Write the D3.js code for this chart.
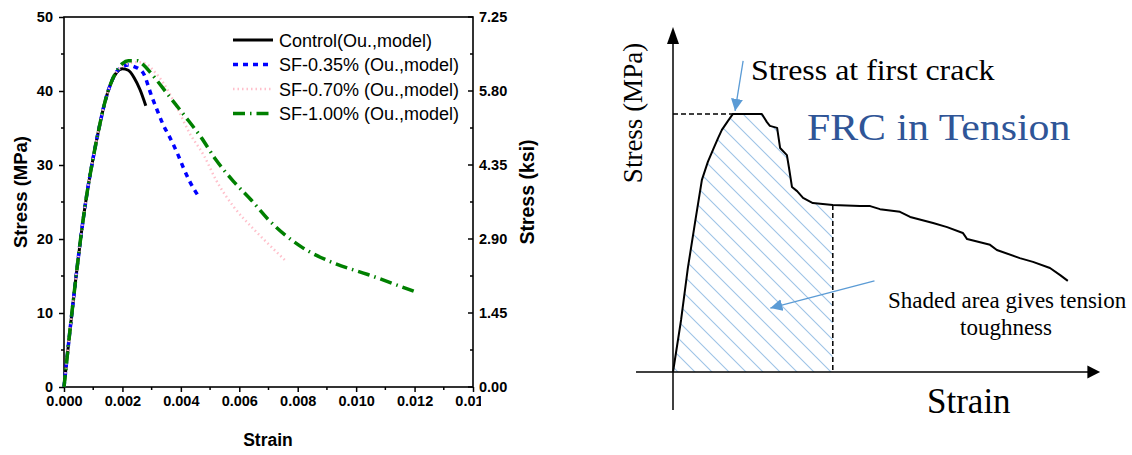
<!DOCTYPE html>
<html><head><meta charset="utf-8">
<script src="https://cdn.jsdelivr.net/npm/d3@7"></script>
<style>body{margin:0;background:#fff;} svg{display:block;}</style>
</head><body><svg id="c" width="1132" height="455"></svg>
<script>
// ---------- Left chart data ----------
const strainControl = [0,0.0002,0.0004,0.0006,0.0008,0.001,0.0012,0.0014,0.0016,0.0018,0.002,0.0022,0.0024,0.0026,0.0028];
const stressControl = [0,7.5,14.5,21,26.5,31,35,38.5,41,42.5,43,42.8,41.8,40.2,38];
const strainSF035 = [0,0.0002,0.0004,0.0006,0.0008,0.001,0.0012,0.0014,0.0016,0.0018,0.002,0.0022,0.0024,0.0027,0.003,0.0032,0.0034,0.0036,0.0039,0.0041,0.0043,0.0046];
const stressSF035 = [0,7.5,14.5,21,26.5,31,35,38.5,41,42.6,43.3,43.5,43.3,42.5,39.3,37.3,35.4,33.9,31.4,29.5,27.8,25.8];
const strainSF070 = [0,0.0002,0.0004,0.0006,0.0008,0.001,0.0012,0.0014,0.0016,0.0018,0.002,0.0022,0.0025,0.0028,0.0031,0.0034,0.0039,0.0043,0.0048,0.0052,0.0058,0.0065,0.0069,0.0076];
const stressSF070 = [0,7.5,14.5,21,26.5,31,35,38.5,41,42.6,43.3,43.7,43.9,43.7,42.6,41.1,37.5,34.3,31.2,28.0,24.4,21.3,19.7,17.0];
const strainSF100 = [0,0.0002,0.0004,0.0006,0.0008,0.001,0.0012,0.0014,0.0016,0.0018,0.002,0.0022,0.0025,0.0027,0.003,0.0036,0.0041,0.0047,0.0052,0.0058,0.0064,0.007,0.0081,0.0092,0.0104,0.012];
const stressSF100 = [0,7.5,14.5,21,26.5,31,35,38.5,41,42.7,43.7,44.1,44.1,43.6,42.3,39.3,36.8,33.7,30.7,27.8,25.3,22.6,19.0,16.8,15.2,12.9];
const seriesNames = ["Control(Ou.,model)","SF-0.35% (Ou.,model)","SF-0.70% (Ou.,model)","SF-1.00% (Ou.,model)"];
const xTicks = [0,0.002,0.004,0.006,0.008,0.010,0.012,0.014];
const yTicks = [0,10,20,30,40,50];
const ksiLabels = ["0.00","1.45","2.90","4.35","5.80","7.25"];

// ---------- Right schematic data (arbitrary units) ----------
const schemStrain = [0,0.19,0.35,0.52,0.68,0.82,0.94,1.06,1.15,1.29,1.41,2.09,2.21,2.28,2.45,2.52,2.68,2.73,2.80,2.92,3.06,3.29,3.76,4.40,4.64,4.87,5.34,5.58,6.12,6.45,6.82,6.92,7.46,7.62,8.16,8.47,8.87,9.11,9.29];
const schemStress = [0,1.53,3.06,4.41,5.65,6.18,6.53,6.88,7.12,7.38,7.59,7.59,7.35,7.24,7.18,6.59,6.38,6.00,5.44,5.32,5.12,4.97,4.91,4.88,4.88,4.79,4.71,4.56,4.38,4.26,4.09,3.91,3.74,3.59,3.35,3.24,3.06,2.85,2.68];
const firstCrackStress = 7.59;
const shadeEndStrain = 3.76;

const svg = d3.select("#c");
const AR = "'Liberation Sans', Arial, sans-serif";
const TR = "'Liberation Serif', 'Times New Roman', serif";

// ================= LEFT CHART =================
const x = d3.scaleLinear([0,0.014],[64,473]);
const y = d3.scaleLinear([0,50],[387,17]);

const defs = svg.append("defs");
defs.append("clipPath").attr("id","cutR").append("rect").attr("x",0).attr("y",0).attr("width",481).attr("height",455);

// bottom axis
const gx = svg.append("g").attr("transform","translate(0,387)").attr("clip-path","url(#cutR)");
gx.call(d3.axisBottom(x).tickValues(xTicks).tickFormat(d3.format(".3f")).tickSize(5).tickPadding(4))
  .call(g=>g.select(".domain").remove());
gx.selectAll("text").attr("font-family",AR).attr("font-weight","bold").attr("font-size",14.5).attr("fill","#000");
gx.selectAll("line").attr("stroke","#000").attr("stroke-width",1.5);
gx.append("g").selectAll("line").data(d3.range(0.001,0.014,0.002)).join("line")
  .attr("x1",d=>x(d)).attr("x2",d=>x(d)).attr("y1",0).attr("y2",3).attr("stroke","#000").attr("stroke-width",1.5);

// left axis
const gy = svg.append("g").attr("transform","translate(64,0)");
gy.call(d3.axisLeft(y).tickValues(yTicks).tickSize(5).tickPadding(6)).call(g=>g.select(".domain").remove());
gy.selectAll("text").attr("font-family",AR).attr("font-weight","bold").attr("font-size",14.5).attr("fill","#000");
gy.selectAll("line").attr("stroke","#000").attr("stroke-width",1.5);
gy.append("g").selectAll("line").data([5,15,25,35,45]).join("line")
  .attr("y1",d=>y(d)).attr("y2",d=>y(d)).attr("x1",0).attr("x2",-3).attr("stroke","#000").attr("stroke-width",1.5);

// right axis (ksi)
const gy2 = svg.append("g").attr("transform","translate(473,0)");
gy2.call(d3.axisRight(y).tickValues(yTicks).tickFormat((d,i)=>ksiLabels[i]).tickSize(0).tickPadding(6))
  .call(g=>g.select(".domain").remove());
gy2.selectAll("text").attr("font-family",AR).attr("font-weight","bold").attr("font-size",14.5).attr("fill","#000");
gy2.append("g").selectAll("line").data(yTicks).join("line")
  .attr("y1",d=>y(d)).attr("y2",d=>y(d)).attr("x1",0).attr("x2",-5).attr("stroke","#000").attr("stroke-width",1.5);
gy2.append("g").selectAll("line").data([5,15,25,35,45]).join("line")
  .attr("y1",d=>y(d)).attr("y2",d=>y(d)).attr("x1",0).attr("x2",-3).attr("stroke","#000").attr("stroke-width",1.5);

// frame
svg.append("rect").attr("x",x(0)).attr("y",y(50)).attr("width",x(0.014)-x(0)).attr("height",y(0)-y(50))
  .attr("fill","none").attr("stroke","#000").attr("stroke-width",1.6);

// axis titles
svg.append("text").attr("x",268).attr("y",446).attr("text-anchor","middle")
  .attr("font-family",AR).attr("font-weight","bold").attr("font-size",17.5).text("Strain");
svg.append("text").attr("transform","translate(26.5,192) rotate(-90)").attr("text-anchor","middle")
  .attr("font-family",AR).attr("font-weight","bold").attr("font-size",18.5).text("Stress (MPa)");
svg.append("text").attr("transform","translate(534,192) rotate(-90)").attr("text-anchor","middle")
  .attr("font-family",AR).attr("font-weight","bold").attr("font-size",19.5).text("Stress (ksi)");

// series
const styles = [
  {color:"#000000", width:3, dash:null},
  {color:"#0000ff", width:3.5, dash:"5,5"},
  {color:"#ffc0cb", width:2.5, dash:"1.5,3"},
  {color:"#008000", width:3.5, dash:"12,5,1.5,5"}
];
const dataSets = [
  strainControl.map((s,i)=>[s,stressControl[i]]),
  strainSF035.map((s,i)=>[s,stressSF035[i]]),
  strainSF070.map((s,i)=>[s,stressSF070[i]]),
  strainSF100.map((s,i)=>[s,stressSF100[i]])
];
const line = d3.line().x(d=>x(d[0])).y(d=>y(d[1])).curve(d3.curveMonotoneX);
dataSets.forEach((ds,i)=>{
  svg.append("path").attr("d",line(ds)).attr("fill","none")
    .attr("stroke",styles[i].color).attr("stroke-width",styles[i].width)
    .attr("stroke-dasharray",styles[i].dash);
});

// legend
const legY = [40,64.5,89,113.5];
seriesNames.forEach((n,i)=>{
  svg.append("line").attr("x1",233).attr("x2",273).attr("y1",legY[i]).attr("y2",legY[i])
    .attr("stroke",styles[i].color).attr("stroke-width",styles[i].width).attr("stroke-dasharray",styles[i].dash);
  svg.append("text").attr("x",279).attr("y",legY[i]+6.5).attr("font-family",AR).attr("font-size",18).text(n);
});

// ================= RIGHT SCHEMATIC =================
const sx = d3.scaleLinear([0,10],[673,1098]);
const sy = d3.scaleLinear([0,10],[372,32]);

const pat = defs.append("pattern").attr("id","hatch").attr("patternUnits","userSpaceOnUse")
  .attr("width",17).attr("height",17);
pat.append("path").attr("d","M0,0L17,17M-2,15L2,19M15,-2L19,2").attr("stroke","#9dc3e6").attr("stroke-width",1.1);

const mk = defs.append("marker").attr("id","barrow").attr("viewBox","0 0 10 10").attr("refX",10).attr("refY",5)
  .attr("markerUnits","userSpaceOnUse").attr("markerWidth",12).attr("markerHeight",12).attr("orient","auto");
mk.append("path").attr("d","M0,0L10,5L0,10z").attr("fill","#5b9bd5");

// shaded area
const pts = schemStrain.map((s,i)=>[s,schemStress[i]]).filter(d=>d[0]<=shadeEndStrain);
const areaPts = pts.concat([[shadeEndStrain,0]]);
svg.append("path").attr("d",d3.line().x(d=>sx(d[0])).y(d=>sy(d[1]))(areaPts)+"Z")
  .attr("fill","url(#hatch)").attr("stroke","none");

// axes
svg.append("line").attr("x1",sx(0)).attr("x2",sx(0)).attr("y1",sy(-1.12)).attr("y2",sy(9.7)).attr("stroke","#000").attr("stroke-width",1.5);
svg.append("path").attr("d",`M${sx(0)},${sy(10.15)}L${sx(0)-6},${sy(9.65)}L${sx(0)+6},${sy(9.65)}Z`).attr("fill","#000");
svg.append("line").attr("x1",sx(-0.87)).attr("x2",sx(9.8)).attr("y1",sy(0)).attr("y2",sy(0)).attr("stroke","#000").attr("stroke-width",1.5);
svg.append("path").attr("d",`M${sx(10.05)},${sy(0)}L${sx(9.75)},${sy(0)-6.5}L${sx(9.75)},${sy(0)+6.5}Z`).attr("fill","#000");

// dashed guides
svg.append("line").attr("x1",sx(0)).attr("x2",sx(1.45)).attr("y1",sy(firstCrackStress)).attr("y2",sy(firstCrackStress))
  .attr("stroke","#000").attr("stroke-width",1.5).attr("stroke-dasharray","5,3");
svg.append("line").attr("x1",sx(shadeEndStrain)).attr("x2",sx(shadeEndStrain)).attr("y1",sy(4.91)).attr("y2",sy(0))
  .attr("stroke","#000").attr("stroke-width",1.5).attr("stroke-dasharray","5,3");

// curve
svg.append("path").attr("d",d3.line().x(d=>sx(d[0])).y(d=>sy(d[1]))(schemStrain.map((s,i)=>[s,schemStress[i]])))
  .attr("fill","none").attr("stroke","#000").attr("stroke-width",2).attr("stroke-linejoin","round");

// arrows
svg.append("line").attr("x1",sx(1.65)).attr("y1",sy(9.15)).attr("x2",sx(1.46)).attr("y2",sy(7.68))
  .attr("stroke","#5b9bd5").attr("stroke-width",1.3).attr("marker-end","url(#barrow)");
svg.append("line").attr("x1",sx(4.74)).attr("y1",sy(2.68)).attr("x2",sx(2.29)).attr("y2",sy(1.88))
  .attr("stroke","#5b9bd5").attr("stroke-width",1.3).attr("marker-end","url(#barrow)");

// texts (the schematic is slightly stretched horizontally)
svg.append("text").attr("transform","translate(642,113) rotate(-90)").attr("text-anchor","middle")
  .attr("font-family",TR).attr("font-size",27).text("Stress (MPa)");
svg.append("text").attr("transform","translate(751,80) scale(1.1,1)").attr("font-family",TR).attr("font-size",29).text("Stress at first crack");
svg.append("text").attr("transform","translate(807,140) scale(1.1,1)").attr("font-family",TR).attr("font-size",38).attr("fill","#2f5597").text("FRC in Tension");
svg.append("text").attr("x",888).attr("y",308).attr("font-family",TR).attr("font-size",23).text("Shaded area gives tension");
svg.append("text").attr("x",1006).attr("y",335).attr("text-anchor","middle").attr("font-family",TR).attr("font-size",23).text("toughness");
svg.append("text").attr("x",927).attr("y",413).attr("font-family",TR).attr("font-size",35).text("Strain");
</script></body></html>
